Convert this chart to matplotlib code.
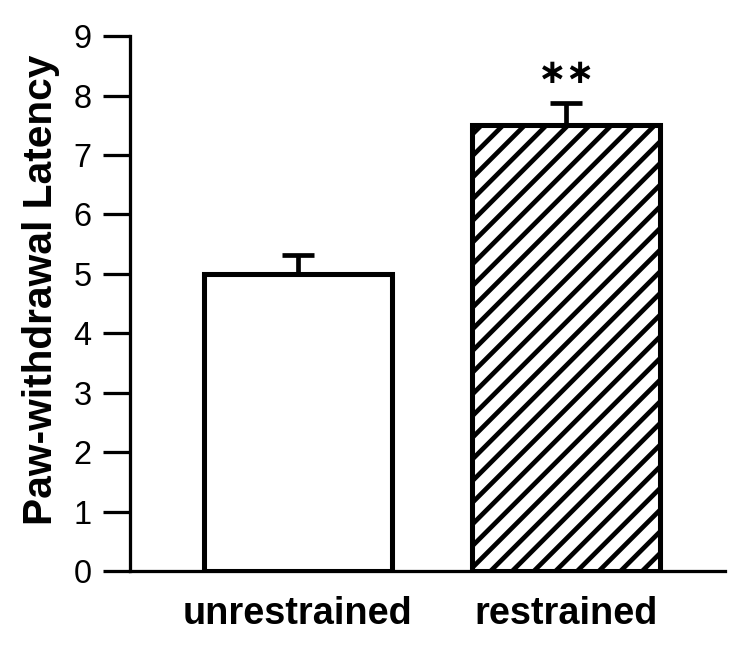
import numpy as np
import matplotlib.pyplot as plt

groups = ['unrestrained', 'restrained']
latency = [5.0, 7.5]
sem = [0.32, 0.37]
hatches = ['', '//']
stars = ['', '\u2217\u2217']

plt.rcParams['font.family'] = ['Liberation Sans', 'DejaVu Sans']
plt.rcParams['hatch.linewidth'] = 2.6

dpi = 130
fig = plt.figure(figsize=(750 / dpi, 646 / dpi), dpi=dpi)
ax = fig.add_axes([0.173, 0.116, 0.794, 0.828])

x = np.arange(len(groups))
bars = ax.bar(x, latency, width=0.70, color='white', edgecolor='black',
              linewidth=2.8, zorder=2)
for b, h in zip(bars, hatches):
    b.set_hatch(h)

ax.errorbar(x, latency, yerr=[np.zeros(len(sem)), sem], fmt='none',
            ecolor='black', elinewidth=2.6, capsize=9, capthick=2.6, zorder=1)

# significance stars above the error bar
for xi, v, e, s in zip(x, latency, sem, stars):
    if s:
        ax.text(xi, v + e + 0.5, s, ha='center', va='center', fontsize=19,
                fontweight='bold', family='DejaVu Sans')

ax.set_xlim(-0.627, 1.593)
ax.set_ylim(0, 9)
ax.set_yticks(range(0, 10))
ax.set_xticks(x)
ax.set_xticklabels(groups, fontsize=21, fontweight='bold')
ax.tick_params(axis='x', length=0, pad=14)
ax.tick_params(axis='y', length=15, width=1.8, labelsize=18, pad=6)
ax.set_ylabel('Paw-withdrawal Latency', fontsize=22.5, fontweight='bold')
ax.yaxis.set_label_coords(-0.117, 0.525)

for side in ['top', 'right']:
    ax.spines[side].set_visible(False)
for side in ['left', 'bottom']:
    ax.spines[side].set_linewidth(1.8)

fig.savefig('out.png', dpi=dpi)
